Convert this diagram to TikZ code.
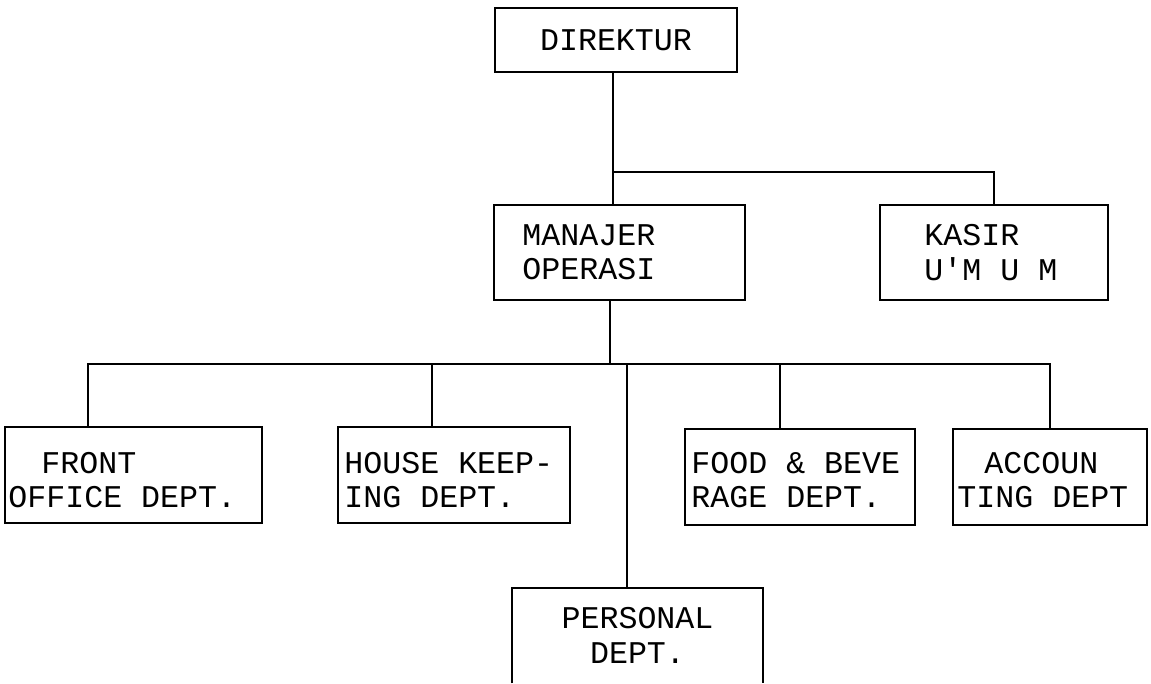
\documentclass[tikz,border=0pt]{standalone}
\usepackage{fontspec}
\newfontfamily\dotfont{Liberation Mono}
\usetikzlibrary{positioning}

\tikzset{
  unit/.style={draw, line width=1.1pt, inner sep=0pt},
  txt/.style={font=\dotfont\fontsize{18}{19.5}\selectfont, align=left, inner sep=0pt},
  link/.style={line width=1.1pt}
}

\begin{document}
\begin{tikzpicture}[x=0.02cm, y=-0.02cm]
\useasboundingbox (0,0) rectangle (1151,683);
% boxes
\node[unit, txt, minimum width=4.84cm, minimum height=1.28cm] (dir) at (616,40) {DIREKTUR};
\node[unit, minimum width=5.02cm, minimum height=1.9cm] (man) at (619.5,252.5) {};
\node[unit, minimum width=4.56cm, minimum height=1.9cm] (kas) at (994,252.5) {};
\node[unit, minimum width=5.14cm, minimum height=1.92cm] (front) at (133.5,475) {};
\node[unit, minimum width=4.64cm, minimum height=1.92cm] (house) at (454,475) {};
\node[unit, minimum width=4.6cm, minimum height=1.92cm] (food) at (800,477) {};
\node[unit, minimum width=3.88cm, minimum height=1.92cm] (acc) at (1050,477) {};
\node[txt, align=center, minimum width=5.02cm, minimum height=1.9cm] (pers) at (637.5,635.5) {PERSONAL\\DEPT.};
\draw[link] (pers.south west) -- (pers.north west) -- (pers.north east) -- (pers.south east);
% texts
\node[txt, right=0.58cm of man.west] (man-t) {MANAJER\\OPERASI};
\node[txt, right=0.9cm of kas.west] (kas-t) {KASIR\\U'M U M};
\node[txt, right=0.08cm of front.west, yshift=-0.1cm] (front-t) {\hspace*{0.66cm}FRONT\\OFFICE DEPT.};
\node[txt, right=0.14cm of house.west, yshift=-0.1cm] (house-t) {HOUSE KEEP-\\ING DEPT.};
\node[txt, right=0.14cm of food.west, yshift=-0.06cm] (food-t) {FOOD \& BEVE\\RAGE DEPT.};
\node[txt, right=0.1cm of acc.west, yshift=-0.06cm] (acc-t) {\hspace*{0.54cm}ACCOUN\\TING DEPT};
% connectors
\coordinate (j1) at (613,172);
\coordinate (j2) at (610,364);
\draw[link] (dir.south -| j1) -- (man.north -| j1);
\draw[link] (j1) -| (kas.north);
\draw[link] (man.south -| j2) -- (j2);
\draw[link] ([xshift=-0.91cm]front.north) |- (j2) -| (acc.north);
\draw[link] ([xshift=-0.44cm]house.north) |- (j2);
\draw[link] ([xshift=-0.4cm]food.north) |- (j2);
\draw[link] ([xshift=-0.21cm]pers.north) |- (j2);
\end{tikzpicture}
\end{document}
